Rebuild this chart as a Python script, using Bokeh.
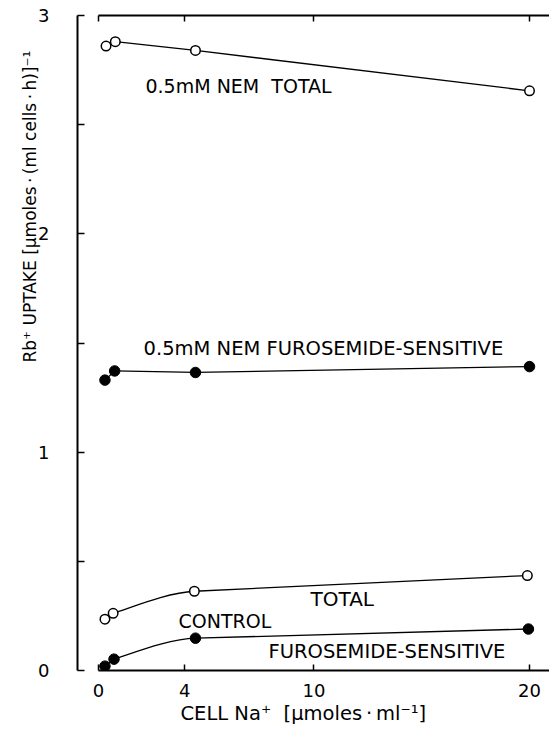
from bokeh.plotting import figure
from bokeh.models import LinearAxis, FixedTicker, Label, Range1d, Title
from bokeh.embed import file_html
from bokeh.resources import INLINE

FONT = "DejaVu Sans"
SP = "\u00a0"
DOT = "\u2009\u00b7\u2009"

# Cell Na+ (umol/ml) and Rb+ uptake (umol/(ml cells h)) for each series
nem_total_x = [0.35, 0.78, 4.5, 20.0]
nem_total_y = [2.86, 2.88, 2.84, 2.655]

nem_furo_x = [0.3, 0.75, 4.5, 20.0]
nem_furo_y = [1.33, 1.372, 1.365, 1.392]

ctrl_total_x = [0.3, 0.68, 4.45, 19.9]
ctrl_total_y = [0.235, 0.262, 0.363, 0.435]

ctrl_furo_x = [0.3, 0.72, 4.5, 19.95]
ctrl_furo_y = [0.02, 0.052, 0.148, 0.19]

x_ticks = [0, 4, 10, 20]
y_ticks = [0, 1, 2, 3]
y_minor = [0.5, 1.5, 2.5]

p = figure(width=549, height=731, output_backend="svg", toolbar_location=None,
           x_range=Range1d(-0.974, 20.928), y_range=Range1d(0, 3),
           x_axis_location=None, y_axis_location=None,
           min_border_left=77, min_border_right=0,
           min_border_top=15, min_border_bottom=61)
p.outline_line_color = None
p.background_fill_color = "white"
p.border_fill_color = "white"
p.grid.grid_line_color = None


def style_axis(ax):
    ax.axis_line_width = 2
    ax.axis_line_color = "black"
    ax.major_tick_line_width = 1.5
    ax.minor_tick_line_width = 1.5
    ax.major_tick_out = 0
    ax.minor_tick_out = 0
    ax.major_label_text_font = FONT
    ax.major_label_text_color = "black"


xb = LinearAxis(ticker=FixedTicker(ticks=x_ticks), bounds=(0, 20.928))
style_axis(xb)
xb.major_tick_in = 6
xb.major_label_text_font_size = "18px"
xb.major_label_standoff = 13
p.add_layout(xb, "below")

# top frame line with inward ticks only
xt = LinearAxis(ticker=FixedTicker(ticks=x_ticks), bounds=(0, 20.928))
style_axis(xt)
xt.major_tick_in = 6
xt.major_label_text_font_size = "1px"
xt.major_label_text_color = None
xt.major_label_standoff = 0
p.add_layout(xt, "above")

yl = LinearAxis(ticker=FixedTicker(ticks=y_ticks, minor_ticks=y_minor))
style_axis(yl)
yl.major_tick_in = 7
yl.minor_tick_in = 7
yl.major_label_text_font_size = "18px"
yl.major_label_standoff = 28
p.add_layout(yl, "left")

# axis titles
p.add_layout(Title(text="CELL Na\u207a" + SP + SP + "[\u03bcmoles" + DOT + "ml\u207b\u00b9]",
                   text_font=FONT, text_font_size="19.5px", text_font_style="normal",
                   text_color="black", align="left", offset=103, standoff=0), "below")
p.add_layout(Title(text="Rb\u207a UPTAKE [\u03bcmoles" + DOT + "(ml cells" + DOT + "h)]\u207b\u00b9",
                   text_font=FONT, text_font_size="17px", text_font_style="normal",
                   text_color="black", align="left", offset=308, standoff=-9), "left")


def draw_series(xs, ys, filled, curved=()):
    # straight joins, except segments listed in `curved` which are drawn as
    # smooth cubic joins (tangent from neighbours)
    for i in range(len(xs) - 1):
        if i in curved:
            px, py = xs[i - 1], ys[i - 1]
            nx, ny = xs[i + 2], ys[i + 2]
            dx = xs[i + 1] - xs[i]
            cx0 = xs[i] + (xs[i + 1] - px) / 5.0
            cy0 = ys[i] + (ys[i + 1] - py) / 5.0
            slope = (ny - ys[i + 1]) / (nx - xs[i + 1])
            cx1 = xs[i + 1] - dx / 3.0
            cy1 = ys[i + 1] - slope * dx / 3.0
            p.bezier(x0=[xs[i]], y0=[ys[i]], x1=[xs[i + 1]], y1=[ys[i + 1]],
                     cx0=[cx0], cy0=[cy0], cx1=[cx1], cy1=[cy1],
                     line_color="black", line_width=1.3)
        else:
            p.line(xs[i:i + 2], ys[i:i + 2], line_color="black", line_width=1.3)
    if filled:
        p.scatter(xs, ys, marker="circle", size=10.5, fill_color="black",
                  line_color="black", line_width=1)
    else:
        p.scatter(xs, ys, marker="circle", size=9.5, fill_color="white",
                  line_color="black", line_width=1.5)


draw_series(nem_total_x, nem_total_y, filled=False)
draw_series(nem_furo_x, nem_furo_y, filled=True)
draw_series(ctrl_total_x, ctrl_total_y, filled=False, curved=(1,))
draw_series(ctrl_furo_x, ctrl_furo_y, filled=True, curved=(1,))


def note(x, y, text, size="19.5px"):
    p.add_layout(Label(x=x, y=y, text=text, text_font=FONT,
                       text_font_size=size, text_color="black",
                       text_align="left", text_baseline="middle"))


note(2.18, 2.675, "0.5mM NEM" + SP + SP + "TOTAL", "19px")
note(2.09, 1.473, "0.5mM NEM" + SP + "FUROSEMIDE-SENSITIVE")
note(9.84, 0.3275, "TOTAL", "20px")
note(3.71, 0.229, "CONTROL", "19px")
note(7.89, 0.085, "FUROSEMIDE-SENSITIVE")

open("out.html", "w").write(file_html(p, INLINE))
